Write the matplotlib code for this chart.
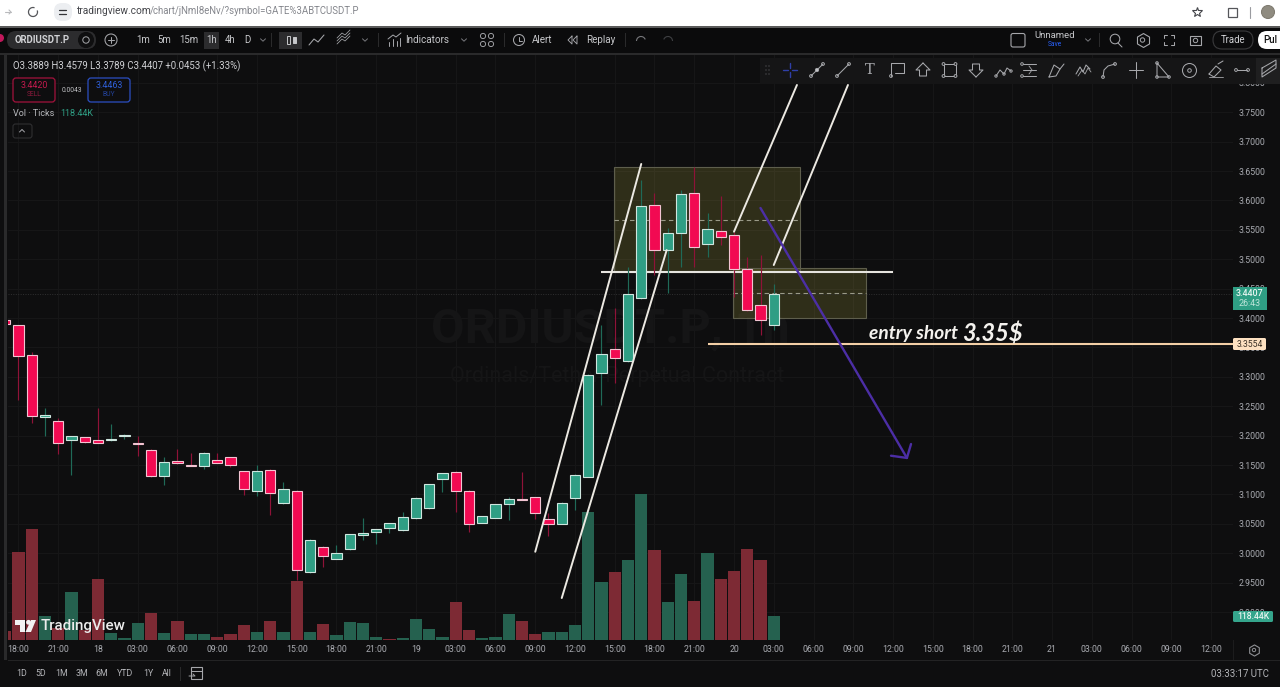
import matplotlib
matplotlib.use("Agg")
import matplotlib.pyplot as plt
from matplotlib.patches import Rectangle, FancyBboxPatch, Circle, Polygon, Arc

plt.rcParams['font.family'] = ['Roboto', 'DejaVu Sans']

# ---- one hour ORDIUSDT.P candles, first entry is the bar cut off by the left edge ----
bar_index = list(range(-1, 58))
opens = [3.3966, 3.3876, 3.3366, 3.2316, 3.2248, 3.1920, 3.1976, 3.1930, 3.1920, 3.1993, 3.1874, 3.1760,
         3.1308, 3.1563, 3.1505, 3.1483, 3.1585, 3.1631, 3.1393, 3.1058, 3.1415, 3.0854, 3.1063, 2.9685,
         3.0110, 2.9906, 3.0066, 3.0315, 3.0366, 3.0429, 3.0389, 3.0593, 3.0774, 3.1267, 3.1381, 3.1063,
         3.0519, 3.0604, 3.0842, 3.0922, 3.0951, 3.0582, 3.0502, 3.0934, 3.1296, 3.3065, 3.3468, 3.3274,
         3.4340, 3.5922, 3.5151, 3.5446, 3.6126, 3.5264, 3.5474, 3.5412, 3.4828, 3.4221, 3.3889]
closes = [3.3893, 3.3354, 3.2333, 3.2350, 3.1879, 3.1988, 3.1891, 3.1879, 3.1937, 3.2015, 3.1862, 3.1308,
          3.1556, 3.1529, 3.1483, 3.1709, 3.1539, 3.1505, 3.1092, 3.1393, 3.1019, 3.1097, 2.9714, 3.0219,
          2.9952, 3.0008, 3.0321, 3.0349, 3.0406, 3.0514, 3.0610, 3.0934, 3.1172, 3.1359, 3.1063, 3.0502,
          3.0633, 3.0832, 3.0917, 3.0905, 3.0689, 3.0502, 3.0859, 3.1325, 3.3031, 3.3388, 3.3315, 3.4403,
          3.5910, 3.5151, 3.5440, 3.6114, 3.5202, 3.5509, 3.5372, 3.4828, 3.4131, 3.3961, 3.4407]
highs = [3.3980, 3.3885, 3.3422, 3.2469, 3.2299, 3.1993, 3.1980, 3.2469, 3.2197, 3.2020, 3.1993, 3.1770,
         3.1641, 3.1767, 3.1704, 3.1720, 3.1709, 3.1640, 3.1400, 3.1500, 3.1430, 3.1216, 3.1070, 3.0250,
         3.0120, 3.0139, 3.0330, 3.0599, 3.0410, 3.0520, 3.0696, 3.0950, 3.1180, 3.1370, 3.1390, 3.1070,
         3.0640, 3.0840, 3.0961, 3.1386, 3.0960, 3.0684, 3.0870, 3.1340, 3.3040, 3.3881, 3.4170, 3.4867,
         3.6347, 3.6126, 3.5531, 3.6177, 3.6568, 3.5786, 3.6075, 3.5463, 3.5037, 3.5071, 3.4579]
lows = [3.3880, 3.2605, 3.2214, 3.1993, 3.1687, 3.1330, 3.1874, 3.1874, 3.1915, 3.1942, 3.1658, 3.1300,
        3.1160, 3.1520, 3.1480, 3.1437, 3.1530, 3.1461, 3.0990, 3.0973, 3.0650, 3.0840, 2.9544, 2.9670,
        2.9770, 2.9900, 3.0060, 3.0224, 3.0156, 3.0349, 3.0380, 3.0580, 3.0760, 3.1046, 3.0706, 3.0366,
        3.0510, 3.0600, 3.0565, 3.0900, 3.0582, 3.0292, 3.0490, 3.0735, 3.1290, 3.2520, 3.2895, 3.3260,
        3.4330, 3.4731, 3.4425, 3.4867, 3.4867, 3.5037, 3.5241, 3.4357, 3.4120, 3.3711, 3.3789]
# traded ticks per bar, in thousands
volumes = [46, 440, 553, 120, 60, 240, 50, 303, 33, 8, 86, 135, 36, 95, 28, 28, 13, 31, 75, 38, 95, 38, 296,
           38, 80, 25, 90, 86, 16, 5, 12, 103, 55, 16, 190, 48, 12, 15, 128, 93, 30, 40, 38, 75, 640, 291, 340,
           398, 730, 448, 191, 328, 195, 433, 306, 345, 456, 400, 118.44]
# R / G colouring of each volume column
volume_colours = "RRRGRGRRGGGRGRGGRRRGRGRGRGGGGRGGGGRRGGGRRGGGGGRGGRGGRGRRRRG"

time_labels = ["18:00", "21:00", "18", "03:00", "06:00", "09:00", "12:00", "15:00", "18:00", "21:00", "19",
               "03:00", "06:00", "09:00", "12:00", "15:00", "18:00", "21:00", "20", "03:00", "06:00", "09:00",
               "12:00", "15:00", "18:00", "21:00", "21", "03:00", "06:00", "09:00", "12:00"]
time_ticks = [3 * k for k in range(len(time_labels))]
price_ticks = [2.90 + 0.05 * k for k in range(19)]

# hand-drawn analysis on top of the candles, as (bar, price) pairs
trend_lines = [((39, 3.0025), (47, 3.6620)), ((41, 2.9238), (48.92, 3.5156)),
               ((54, 3.5468), (58.75, 3.7963)), ((57, 3.4901), (62.6, 3.7963))]
zones = [(44.94, 59.0, 3.4782, 3.6568), (53.9, 63.95, 3.4000, 3.4850)]
neckline = ((44, 66), 3.4782)
entry_price = 3.3554
entry_start = 52
last_price = 3.4407
arrow_shaft = ((56, 3.5871), (67.05, 3.1620))
arrow_barbs = [((65.85, 3.1658), (67.05, 3.1620)), ((67.36, 3.1857), (67.05, 3.1620))]

W, H = 1280, 687
BG = '#0e0e0f'
GRID = '#171718'
RED, GREEN = '#f20a52', '#2f9e84'
RED_EDGE, GREEN_EDGE = '#f2c4d2', '#cfe6df'
RED_WICK, GREEN_WICK = '#8f1238', '#1f6a58'
RED_VOL, GREEN_VOL = '#7d2a34', '#25614f'
LABEL = '#a9abb1'
ICON = '#a6a7ab'

fig = plt.figure(figsize=(W / 100, H / 100), dpi=100, facecolor=BG)


def px_axes(left, top, right, bottom, **kw):
    return fig.add_axes([left / W, 1 - bottom / H, (right - left) / W, (bottom - top) / H], **kw)


# ---- volume pane shares the candle pane's rectangle and carries the grid ----
vol_ax = px_axes(8, 55, 1233, 640, facecolor=BG, zorder=1)
vol_ax.set_xlim(-0.792, 91.66)
vol_ax.set_ylim(0, 2925)
vol_ax.bar(bar_index, volumes, width=0.94, linewidth=0,
           color=[GREEN_VOL if c == 'G' else RED_VOL for c in volume_colours], zorder=3)
vol_ax.set_xticks(time_ticks)
vol_ax.set_yticks([(p - 2.8524) / (3.8473 - 2.8524) * 2925 for p in price_ticks])
vol_ax.tick_params(length=0, labelbottom=False, labelleft=False)
vol_ax.grid(True, color=GRID, linewidth=0.7, zorder=0)
vol_ax.set_axisbelow(True)
for s in vol_ax.spines.values():
    s.set_visible(False)

# ---- candle pane ----
ax = px_axes(8, 55, 1233, 640, facecolor='none', zorder=2)
ax.set_xlim(-0.792, 91.66)
ax.set_ylim(2.8524, 3.8473)
for s in ax.spines.values():
    s.set_visible(False)
ax.set_xticks(time_ticks)
ax.set_xticklabels(time_labels, fontsize=6.3, color=LABEL)
ax.set_yticks(price_ticks)
ax.set_yticklabels([f"{p:.4f}" for p in price_ticks], fontsize=6.3, color=LABEL)
ax.yaxis.tick_right()
ax.tick_params(axis='both', length=0)
ax.tick_params(axis='y', pad=4)
ax.tick_params(axis='x', pad=3.5)

ax.text(0.492, 0.53, "ORDIUSDT.P, 1h", transform=ax.transAxes, ha='center', va='center',
        fontsize=35, fontweight='bold', color='#151516', zorder=0.5)
ax.text(0.4975, 0.4496, "Ordinals/Tether Perpetual Contract", transform=ax.transAxes, ha='center',
        va='center', fontsize=15.5, color='#151516', zorder=0.5)

for x0, x1, y0, y1 in zones:
    ax.add_patch(Rectangle((x0, y0), x1 - x0, y1 - y0, facecolor='#c9c04a', alpha=0.18, edgecolor='none', zorder=1))
    ax.add_patch(Rectangle((x0, y0), x1 - x0, y1 - y0, facecolor='none', edgecolor='#5e5e4c', linewidth=0.8, zorder=1.1))
    ax.plot([x0, x1], [(y0 + y1) / 2] * 2, color='#9a9a88', linewidth=0.8, linestyle=(0, (4, 3)), zorder=1.2)

ax.plot([-0.792, 91.66], [last_price] * 2, color='#303031', linewidth=0.7, linestyle=(0, (1, 1.5)), zorder=1)
ax.plot(neckline[0], [neckline[1]] * 2, color='#e6e4df', linewidth=1.5, zorder=1.5, solid_capstyle='butt')

for i, o, h, l, c in zip(bar_index, opens, highs, lows, closes):
    up = c >= o
    ax.vlines(i, l, h, color=GREEN_WICK if up else RED_WICK, linewidth=0.85, zorder=2)
    ax.bar(i, max(abs(c - o), 0.0012), bottom=min(o, c), width=0.76, zorder=3,
           facecolor=GREEN if up else RED, edgecolor=GREEN_EDGE if up else RED_EDGE, linewidth=0.8)

for (a, b) in trend_lines:
    ax.plot([a[0], b[0]], [a[1], b[1]], color='#ece9e2', linewidth=1.4, zorder=4, solid_capstyle='round')
ax.plot([entry_start, 91.66], [entry_price] * 2, color='#f3cfa6', linewidth=1.5, zorder=4, solid_capstyle='butt')

ax.plot([arrow_shaft[0][0], arrow_shaft[1][0]], [arrow_shaft[0][1], arrow_shaft[1][1]],
        color='#4c2ea6', linewidth=1.7, zorder=4.5, solid_capstyle='round')
for (a, b) in arrow_barbs:
    ax.plot([a[0], b[0]], [a[1], b[1]], color='#4c2ea6', linewidth=1.7, zorder=4.5, solid_capstyle='round')

# ---- interface layer, laid out in screen pixels ----
ui = fig.add_axes([0, 0, 1, 1], facecolor='none', zorder=5)
ui.set_xlim(0, W)
ui.set_ylim(H, 0)
ui.axis('off')


def box(x0, y0, x1, y1, color, z=1, **kw):
    ui.add_patch(Rectangle((x0, y0), x1 - x0, y1 - y0, facecolor=color, edgecolor='none', zorder=z, **kw))


def pill(x0, y0, x1, y1, r, face, edge='none', lw=0.8, z=2):
    ui.add_patch(FancyBboxPatch((x0 + r, y0 + r), x1 - x0 - 2 * r, y1 - y0 - 2 * r,
                                boxstyle=f"round,pad={r},rounding_size={r}", facecolor=face,
                                edgecolor=edge, linewidth=lw, zorder=z, mutation_aspect=1))


def txt(x, y, s, size=6.7, color='#d0d1d4', ha='left', weight='normal', z=5, **kw):
    ui.text(x, y, s, fontsize=size, color=color, ha=ha, va='center', fontweight=weight, zorder=z, **kw)


def stroke(xs, ys, color=ICON, lw=0.75, z=5):
    ui.plot(xs, ys, color=color, linewidth=lw, zorder=z, solid_capstyle='round', solid_joinstyle='round')


def ring(x, y, r, color=ICON, lw=0.75, face='none', z=5):
    ui.add_patch(Circle((x, y), r, facecolor=face, edgecolor=color, linewidth=lw, zorder=z))


def caret(x, y, color='#77787c'):
    stroke([x - 2.5, x, x + 2.5], [y - 1.2, y + 1.2, y - 1.2], color=color, lw=0.7)


# browser bar
box(0, 0, W, 26, '#ffffff')
box(0, 26, W, 28, '#5a5a5a', z=1.5)
stroke([5, 11], [12, 12], color='#b9babd', lw=0.8)
stroke([9, 11, 9], [10, 12, 14], color='#b9babd', lw=0.8)
ui.add_patch(Arc((33, 12), 9, 9, theta1=-20, theta2=290, edgecolor='#55565a', linewidth=0.9, zorder=5))
pill(54, 3, 72, 21, 8, '#eceef1')
stroke([59, 66], [10, 10], color='#333438', lw=0.9)
stroke([59, 66], [14, 14], color='#333438', lw=0.9)
txt(77, 11, "tradingview.com", size=7.3, color='#44454a')
txt(150, 11, "/chart/jNmI8eNv/?symbol=GATE%3ABTCUSDT.P", size=6.9, color='#85878d')
ui.plot([1197], [12], marker='*', markersize=7, markerfacecolor='none', markeredgecolor='#44454a',
        markeredgewidth=0.8, zorder=5)
ui.add_patch(Rectangle((1228, 8), 9, 9, facecolor='none', edgecolor='#55565a', linewidth=0.9, zorder=5))
stroke([1250, 1250], [7, 18], color='#9a9ba0', lw=0.8)
ring(1268, 12, 6.5, color='#7f7b70', face='#8f8b80')

# top toolbar
box(0, 28, W, 53, '#0b0b0c')
box(0, 53, W, 55, '#2a2a2b', z=1.5)
ui.add_patch(Circle((0, 38), 4, facecolor='#c2185b', zorder=5))
pill(7, 31, 96, 49, 9, '#2c2c2e')
txt(15, 40, "ORDIUSDT.P", size=6.9, color='#d0d1d4', weight='bold')
ring(86, 40, 7.5, color='#0f0f10', face='#0f0f10')
ring(86, 40, 3.2, lw=0.7)
ring(111, 40, 6)
stroke([108, 114], [40, 40])
stroke([111, 111], [37, 43])
box(128.5, 33, 129.2, 47, '#2a2a2b')
box(204, 32, 219, 49, '#2c2c2e')
for x, s in [(143, "1m"), (164, "5m"), (189, "15m"), (211.5, "1h"), (230, "4h"), (247, "D")]:
    txt(x, 40, s, ha='center', size=6.9, color='#c6c7ca')
caret(263, 40)
box(279, 32, 302, 49, '#2c2c2e')
box(271, 33, 271.7, 47, '#2a2a2b')
ui.add_patch(Rectangle((286.5, 36), 3.2, 8, facecolor='none', edgecolor='#c6c7ca', linewidth=0.7, zorder=5))
ui.add_patch(Rectangle((292.5, 37), 3.2, 6, facecolor='#c6c7ca', edgecolor='#c6c7ca', linewidth=0.7, zorder=5))
stroke([309, 314, 318, 324], [45, 39, 42, 35])
for dy in (0, 3, 6):
    stroke([337, 342, 345, 350], [44 - dy, 39 - dy, 41 - dy, 36 - dy], lw=0.55)
caret(365, 40)
box(378, 33, 378.7, 47, '#2a2a2b')
stroke([388, 393, 396, 401], [39, 35, 37, 33], lw=0.7)
for x, h in [(389, 4), (393, 7), (397, 5), (400, 8)]:
    stroke([x, x], [46 - h, 46], lw=0.7)
txt(405, 40, "Indicators", size=7.1, color='#c6c7ca')
caret(464, 40)
for x in (483, 491):
    for y in (36, 44):
        ring(x, y, 2.6, lw=0.65)
box(504, 33, 504.7, 47, '#2a2a2b')
ring(519, 40, 5.5)
stroke([519, 519, 522], [37, 40.5, 40.5], lw=0.7)
txt(532, 40, "Alert", size=7.1, color='#c6c7ca')
stroke([572, 568, 572, 572], [36, 40, 44, 36], lw=0.65)
stroke([577, 573, 577, 577], [36, 40, 44, 36], lw=0.65)
txt(586, 40, "Replay", size=7.1, color='#c6c7ca')
box(625, 33, 625.7, 47, '#2a2a2b')
ui.add_patch(Arc((641, 41), 9, 9, theta1=180, theta2=340, edgecolor='#77787c', linewidth=0.8, zorder=5))
ui.add_patch(Arc((668, 41), 9, 9, theta1=200, theta2=360, edgecolor='#3f4043', linewidth=0.8, zorder=5))
pill(1011, 33.5, 1025, 47, 2, 'none', edge=ICON)
txt(1055, 36, "Unnamed", size=6.8, ha='center', color='#c6c7ca')
txt(1055, 45, "Save", size=4.8, ha='center', color='#2962ff')
caret(1088, 40)
box(1099, 33, 1099.7, 47, '#2a2a2b')
ring(1115, 39, 4.8)
stroke([1118, 1122], [43, 47])
ui.plot([1142.5], [40], marker='h', markersize=10, markerfacecolor='none', markeredgecolor=ICON,
        markeredgewidth=0.8, zorder=5)
ring(1142.5, 40, 2.2, lw=0.7)
for sx, sy in [(-1, -1), (1, -1), (-1, 1), (1, 1)]:
    stroke([1169 + sx * 5, 1169 + sx * 5, 1169 + sx * 2], [40 + sy * 2, 40 + sy * 5, 40 + sy * 5])
ui.add_patch(Rectangle((1190, 36), 11, 9, facecolor='none', edgecolor=ICON, linewidth=0.8, zorder=5))
ring(1195.5, 40.5, 2.2, lw=0.7)
pill(1213, 31, 1253, 49, 9, 'none', edge='#3a3a3c')
txt(1233, 40, "Trade", ha='center', size=6.9)
pill(1258, 31, 1292, 49, 9, '#ffffff')
txt(1263, 40, "Pul", size=6.9, color='#111111', weight='medium')

# left drawing rail
box(0, 55, 8, 687, '#0e0e0f')
box(4, 55, 6.5, 660, '#2a2a2b', z=1.5)

# legend block
txt(13, 66.5, "O3.3889 H3.4579 L3.3789 C3.4407 +0.0453 (+1.33%)", size=6.9, color='#cfd0d3')
pill(13, 78, 55, 102, 3, '#0e0e0f', edge='#a3123c', lw=0.9)
txt(34, 86, "3.4420", size=6.4, ha='center', color='#c41a4e')
txt(34, 95, "SELL", size=4.9, ha='center', color='#8a1a3c')
txt(72, 90, "0.0043", size=4.9, ha='center', color='#c0c1c4')
pill(88, 78, 130, 102, 3, '#0e0e0f', edge='#2b4fc2', lw=0.9)
txt(109, 86, "3.4463", size=6.4, ha='center', color='#2f5fd8')
txt(109, 95, "BUY", size=4.9, ha='center', color='#23429a')
txt(13, 113.5, "Vol · Ticks", size=6.5, color='#b8b9bd')
txt(60, 113.5, "118.44K", size=6.5, color='#2f9e84')
pill(13, 124, 32, 138, 2.5, 'none', edge='#2f2f31')
stroke([19.5, 22, 24.5], [132, 129.5, 132], lw=0.7)

# entry note on the chart
txt(869, 334, "entry short", size=13.8, color='#f4f2ee', weight='bold', style='italic', family='Lato', z=6)
txt(962, 334, "3.35$", size=17, color='#f4f2ee', weight='bold', style='italic', family='Lato', z=6)

# floating drawing toolbar
box(760, 58, W, 84, '#151516', z=3)
for x in (766, 769):
    for y in (66, 70, 74):
        ring(x, y, 0.5, color='#3c3c3e', lw=0.5)
for xs, ys in [([783, 788], [70, 70]), ([792, 797], [70, 70]), ([790, 790], [63, 68]), ([790, 790], [72, 77])]:
    stroke(xs, ys, color='#2f3fa8', lw=1)
stroke([811, 823], [76, 64])
ring(811, 76, 1.4, lw=0.7)
ring(823, 64, 1.4, lw=0.7)
ring(817, 70, 1.6, lw=0.7, face='#c6c7ca')
stroke([837, 849], [76, 64])
ring(837, 76, 1.4, lw=0.7)
ring(849, 64, 1.4, lw=0.7)
txt(870, 70.5, "T", size=10.5, ha='center', color=ICON, family='DejaVu Serif')
stroke([891, 891, 904, 904, 895], [76, 63, 63, 73, 73])
ring(891, 76, 1.4, lw=0.7)
stroke([923, 930, 926.5, 926.5, 919.5, 919.5, 916, 923], [63, 70, 70, 76, 76, 70, 70, 63])
ui.add_patch(Rectangle((943.5, 64), 12, 12, facecolor='none', edgecolor=ICON, linewidth=0.75, zorder=5))
for cx in (943.5, 955.5):
    for cy in (64, 76):
        ring(cx, cy, 1.4, lw=0.7, face='#151516')
stroke([976, 969, 972.5, 972.5, 979.5, 979.5, 983, 976], [77, 70, 70, 64, 64, 70, 70, 77])
stroke([996, 1000, 1004, 1007, 1011], [76, 70, 74, 68, 71])
for x, y in [(996, 76), (1004, 74), (1011, 71)]:
    ring(x, y, 1.2, lw=0.7)
for y in (64, 70, 76):
    stroke([1023, 1036], [y, y])
ring(1022, 76, 1.3, lw=0.7)
ring(1022, 64, 1.3, lw=0.7)
stroke([1029, 1032, 1029], [66, 70, 74], lw=0.6)
stroke([1049, 1054, 1060, 1056, 1049], [77, 65, 69, 76, 77])
stroke([1060, 1064], [69, 64])
stroke([1076, 1080, 1083, 1086, 1090], [74, 67, 72, 65, 69])
stroke([1078, 1082, 1085, 1088, 1091], [76, 70, 74, 68, 72], lw=0.6)
stroke([1103, 1104, 1108, 1115], [77, 70, 66, 64])
ring(1103, 77, 1.4, lw=0.7)
ring(1115, 64, 1.4, lw=0.7)
stroke([1129, 1143], [70, 70])
stroke([1136, 1136], [62, 78])
stroke([1157, 1157, 1169, 1157], [63, 77, 77, 63])
ring(1157, 63, 1.3, lw=0.7)
ring(1169, 77, 1.3, lw=0.7)
ring(1157, 77, 1.3, lw=0.7)
ring(1189.5, 70.5, 7)
ring(1189.5, 70.5, 1.8, lw=0.7)
stroke([1209, 1216, 1221, 1214, 1209], [74, 66, 70, 77, 74])
stroke([1218, 1223], [64, 61])
stroke([1209, 1223], [77, 77], lw=0.6)
stroke([1237, 1247], [70, 70])
ring(1236, 70, 1.4, lw=0.7)
ring(1248, 70, 1.4, lw=0.7)
box(1256, 58, W, 84, '#1f1f20', z=3.2)
stroke([1262, 1262, 1276, 1276, 1262], [68, 77, 68, 60, 68])
stroke([1262, 1276], [74, 64])

# price scale labels
box(1233, 287, 1267, 309.5, '#2f9e84', z=3)
txt(1250, 293.5, "3.4407", size=6.4, ha='center', color='#e8f5f1', weight='medium')
txt(1250, 303.5, "26:43", size=6.4, ha='center', color='#bfe5da')
pill(1233, 338, 1266, 350, 1.5, '#fde1c1', z=3)
txt(1250, 344.3, "3.3554", size=6.2, ha='center', color='#3a3025')
pill(1233, 611, 1273, 622, 1.5, '#35a58c', z=3)
txt(1253, 616.7, "118.44K", size=6.2, ha='center', color='#e8f5f1', weight='medium')

# watermark logo
ui.add_patch(Polygon([(15, 620), (25, 620), (25, 632), (20, 632), (20, 625), (15, 625)], facecolor='#f2f2f2', zorder=6))
ui.add_patch(Circle((28.5, 622.3), 2.4, facecolor='#f2f2f2', zorder=6))
ui.add_patch(Polygon([(31, 620), (36, 620), (31, 632), (25.5, 632)], facecolor='#f2f2f2', zorder=6))
txt(41, 626.3, "TradingView", size=10.9, color='#ececec', weight='medium', z=6)

# time scale and range bar
box(8, 660, W, 660.8, '#232324', z=1.5)
box(1233, 640, 1233.7, 660, '#1c1c1d', z=1.5)
ui.plot([1254], [650], marker='h', markersize=8, markerfacecolor='none', markeredgecolor='#8f9094',
        markeredgewidth=0.8, zorder=5)
ring(1254, 650, 1.7, color='#8f9094', lw=0.7)
for x, s in [(22, "1D"), (41, "5D"), (61.5, "1M"), (82, "3M"), (102, "6M"), (125, "YTD"), (148, "1Y"), (167, "All")]:
    txt(x, 674, s, size=6.3, ha='center', color='#b4b5b9')
box(180, 667, 180.7, 681, '#2a2a2b')
ui.add_patch(Rectangle((191, 667), 11, 12, facecolor='none', edgecolor=ICON, linewidth=0.8, zorder=5))
stroke([191, 202], [670.5, 670.5])
stroke([189, 195, 193], [676, 676, 674], lw=0.7)
txt(1269, 674, "03:33:17 UTC", size=6.9, ha='right', color='#b4b5b9')

fig.savefig("out.png", dpi=100, facecolor=BG)
